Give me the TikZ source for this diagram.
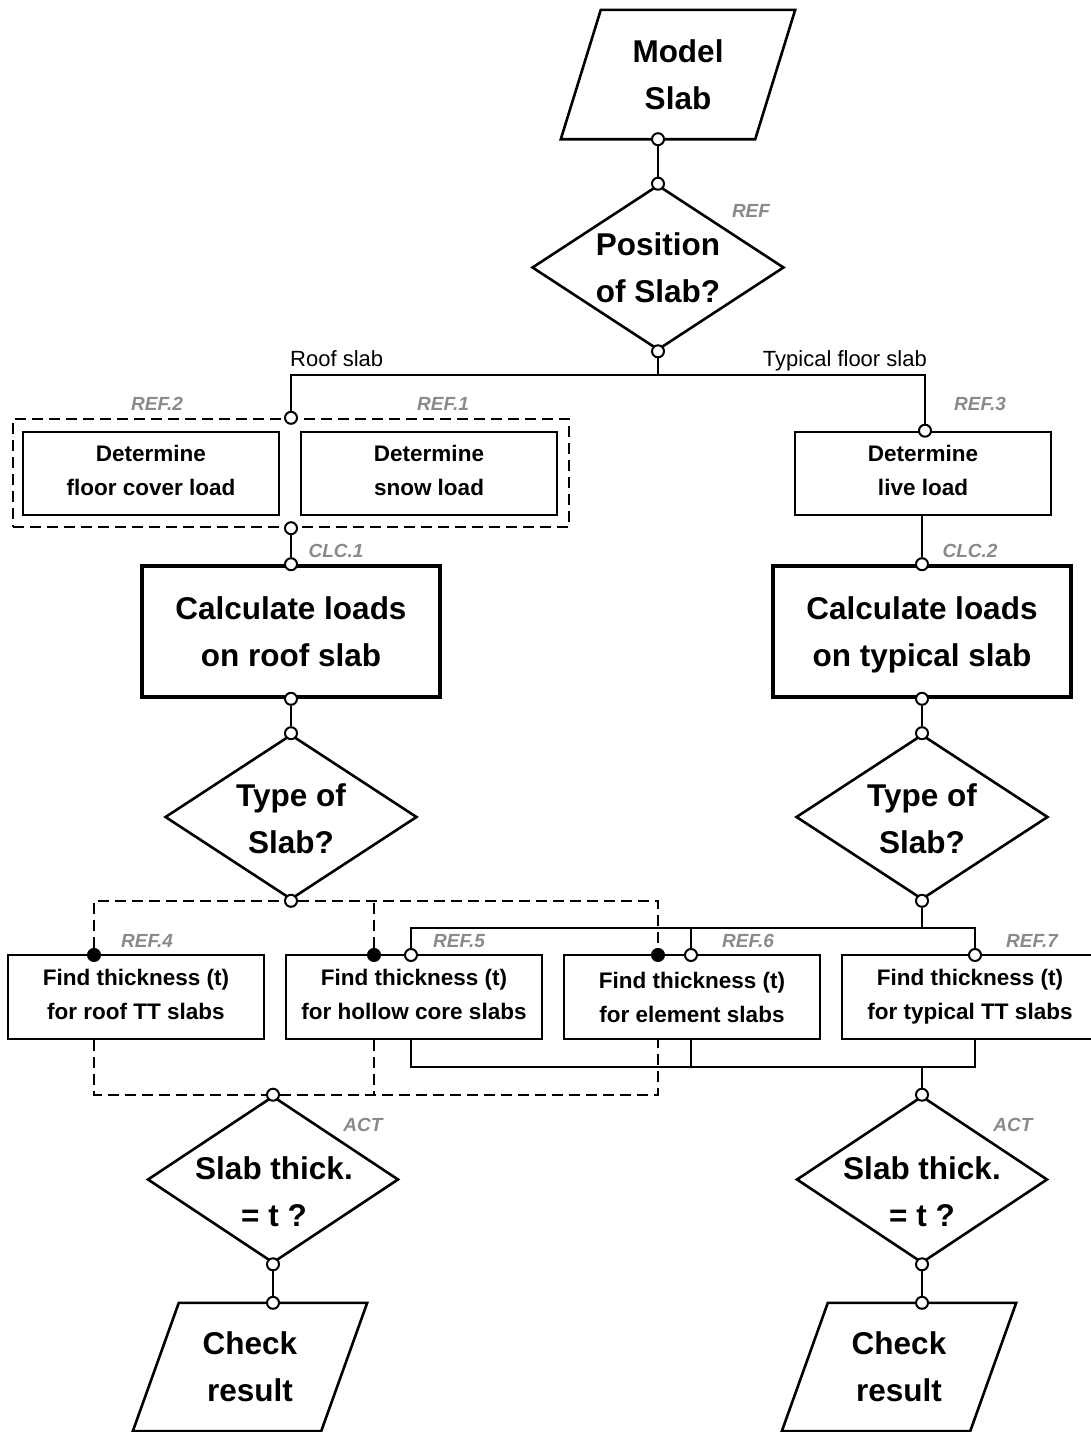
\documentclass[tikz,border=0pt]{standalone}
\usepackage{fontspec}
\setmainfont{Liberation Sans}
\usetikzlibrary{shapes.geometric,calc}
\definecolor{refgray}{RGB}{138,138,138}
\newcommand\bigtxt{\fontsize{31.5}{47}\selectfont\bfseries}
\newcommand\medtxt{\fontsize{22.5}{34}\selectfont\bfseries}
\newcommand\lbltxt{\fontsize{22}{26}\selectfont}
\newcommand\tagtxt{\fontsize{19}{22}\selectfont\bfseries\itshape}
% parallelogram drawn around an (invisible) node: #1 node name, #2 half of the slant
\newcommand\drawslant[2]{\draw[line width=2.6pt, line join=miter]
  ($(#1.south west)+(-#2,0)$) -- ($(#1.south east)+(-#2,0)$) --
  ($(#1.north east)+(#2,0)$) -- ($(#1.north west)+(#2,0)$) -- cycle;}

\begin{document}
\begin{tikzpicture}[x=1pt,y=-1pt,
  proc/.style={draw, line width=2.6pt, minimum width=256pt, minimum height=83pt,
    inner sep=0pt, align=center, font=\medtxt, text depth=6pt},
  calcbox/.style={draw, line width=3.6pt, minimum width=298pt, minimum height=131pt,
    inner sep=0pt, align=center, font=\bigtxt, text depth=-2pt},
  decide/.style={draw, diamond, line width=2.6pt, minimum width=252pt,
    minimum height=165pt, inner sep=0pt},
  dtext/.style={align=center, font=\bigtxt, inner sep=0pt},
  iobox/.style={minimum width=194pt, minimum height=129pt, inner sep=0pt,
    align=center, font=\bigtxt, text depth=-4pt},
  port/.style={circle, draw, fill=white, line width=2pt, minimum size=12pt, inner sep=0pt},
  dot/.style={circle, draw, fill=black, line width=2pt, minimum size=12pt, inner sep=0pt},
  tag/.style={font=\tagtxt, text=refgray, inner sep=0pt},
  wire/.style={line width=2.2pt},
  dwire/.style={line width=2.4pt, dash pattern=on 11pt off 6pt},
  lbl/.style={font=\lbltxt, inner sep=0pt}
]
\useasboundingbox (0,0) rectangle (1091,1432);

% ---- input and first decision
\node[iobox] (ms) at (678,74.5) {Model\\Slab};
\drawslant{ms}{20}
\node[decide] (pos) at (658,267.5) {};
\node[dtext] (post) at (pos) {Position\\of Slab?};
\node[tag] (tpos) at (751,211) {REF};

% ---- load determination
\node[draw, dwire, minimum width=556pt, minimum height=108pt, inner sep=0pt] (grp) at (291,473) {};
\node[proc] (floor) at (151,473.5) {Determine\\floor cover load};
\node[proc] (snow) at (429,473.5) {Determine\\snow load};
\node[proc] (live) at (923,473.5) {Determine\\live load};
\node[tag] (tref2) at (157,404) {REF.2};
\node[tag] (tref1) at (443,404) {REF.1};
\node[tag] (tref3) at (980,404) {REF.3};

% ---- load calculation
\node[calcbox] (calcroof) at (291,631.5) {Calculate loads\\on roof slab};
\node[calcbox] (calctyp) at (922,631.5) {Calculate loads\\on typical slab};
\node[tag] (tclc1) at (336,551) {CLC.1};
\node[tag] (tclc2) at (970,551) {CLC.2};

% ---- slab type decisions
\node[decide] (ty1) at (291,817) {};
\node[dtext] (ty1t) at (291,819) {Type of\\Slab?};
\node[decide] (ty2) at (922,817) {};
\node[dtext] (ty2t) at (922,819) {Type of\\Slab?};

% ---- thickness boxes
\node[proc, minimum height=84pt] (fa) at (136,997) {Find thickness (t)\\for roof TT slabs};
\node[proc, minimum height=84pt] (fb) at (414,997) {Find thickness (t)\\for hollow core slabs};
\node[proc, minimum height=84pt, text depth=-2pt] (fc) at (692,997) {Find thickness (t)\\for element slabs};
\node[proc, minimum height=84pt] (fd) at (970,997) {Find thickness (t)\\for typical TT slabs};
\node[tag] (tref4) at (147,941) {REF.4};
\node[tag] (tref5) at (459,941) {REF.5};
\node[tag] (tref6) at (748,941) {REF.6};
\node[tag] (tref7) at (1032,941) {REF.7};

% ---- thickness checks
\node[decide, minimum width=251pt, minimum height=167pt] (ac1) at (273,1179.5) {};
\node[dtext] (ac1t) at (274,1192) {Slab thick.\\= t ?};
\node[decide, minimum width=251pt, minimum height=167pt] (ac2) at (922,1179.5) {};
\node[dtext] (ac2t) at (922,1192) {Slab thick.\\= t ?};
\node[tag] (tact1) at (363,1125) {ACT};
\node[tag] (tact2) at (1013,1125) {ACT};

% ---- outputs
\node[iobox, minimum width=188pt, minimum height=128pt] (chk1) at (250,1367) {Check\\result};
\drawslant{chk1}{23}
\node[iobox, minimum width=188pt, minimum height=128pt] (chk2) at (899,1367) {Check\\result};
\drawslant{chk2}{23}

% ---- ports
\node[port] (p0) at ($(ms.south)+(-20,0)$) {};
\node[port] (pa) at (pos.north) {};
\node[port] (pb) at (pos.south) {};
\node[port] (r1) at (grp.north) {};
\node[port] (r2) at (grp.south) {};
\node[port] (r3) at ($(live.north)+(2,0)$) {};
\node[port] (c1t) at (calcroof.north) {};
\node[port] (c1b) at (calcroof.south) {};
\node[port] (c2t) at (calctyp.north) {};
\node[port] (c2b) at (calctyp.south) {};
\node[port] (y1t) at (ty1.north) {};
\node[port] (y1b) at (ty1.south) {};
\node[port] (y2t) at (ty2.north) {};
\node[port] (y2b) at (ty2.south) {};
\node[dot] (da) at (94,955) {};
\node[dot] (db) at (374,955) {};
\node[dot] (dc) at (658,955) {};
\node[port] (ob) at (411,955) {};
\node[port] (oc) at (691,955) {};
\node[port] (od) at (975,955) {};
\node[port] (q1) at (ac1.north) {};
\node[port] (q2) at (ac2.north) {};
\node[port] (a1b) at (ac1.south) {};
\node[port] (a2b) at (ac2.south) {};
\node[port] (k1) at ($(chk1.north)+(23,0)$) {};
\node[port] (k2) at ($(chk2.north)+(23,0)$) {};

% ---- connectors
\coordinate (split) at (658,375);
\draw[wire] (p0) -- (pa);
\draw[wire] (pb) -- (split);
\draw[wire] (r1) |- (split) -| (r3);
\node[lbl, anchor=base west] (lroof) at (290,366) {Roof slab};
\node[lbl, anchor=base east] (ltyp) at (927,366) {Typical floor slab};

\draw[wire] (r2) -- (c1t);
\draw[wire] (c2t |- live.south) -- (c2t);
\draw[wire] (c1b) -- (y1t);
\draw[wire] (c2b) -- (y2t);

% roof slab branches (dashed)
\draw[dwire] (da) |- (y1b) -| (dc);
\draw[dwire] (db) -- (db |- y1b);
\draw[dwire] (fa.south -| da) |- (q1) -| (fc.south -| dc);
\draw[dwire] (fb.south -| db) -- (db |- q1);

% typical slab branches (solid)
\coordinate (sj) at (922,928);
\coordinate (bj) at (922,1067);
\draw[wire] (y2b) -- (sj);
\draw[wire] (ob) |- (sj) -| (od);
\draw[wire] (oc) -- (oc |- sj);
\draw[wire] (fb.south -| ob) |- (bj) -| (fd.south -| od);
\draw[wire] (fc.south -| oc) -- (oc |- bj);
\draw[wire] (bj) -- (q2);

\draw[wire] (a1b) -- (k1);
\draw[wire] (a2b) -- (k2);
\end{tikzpicture}
\end{document}
